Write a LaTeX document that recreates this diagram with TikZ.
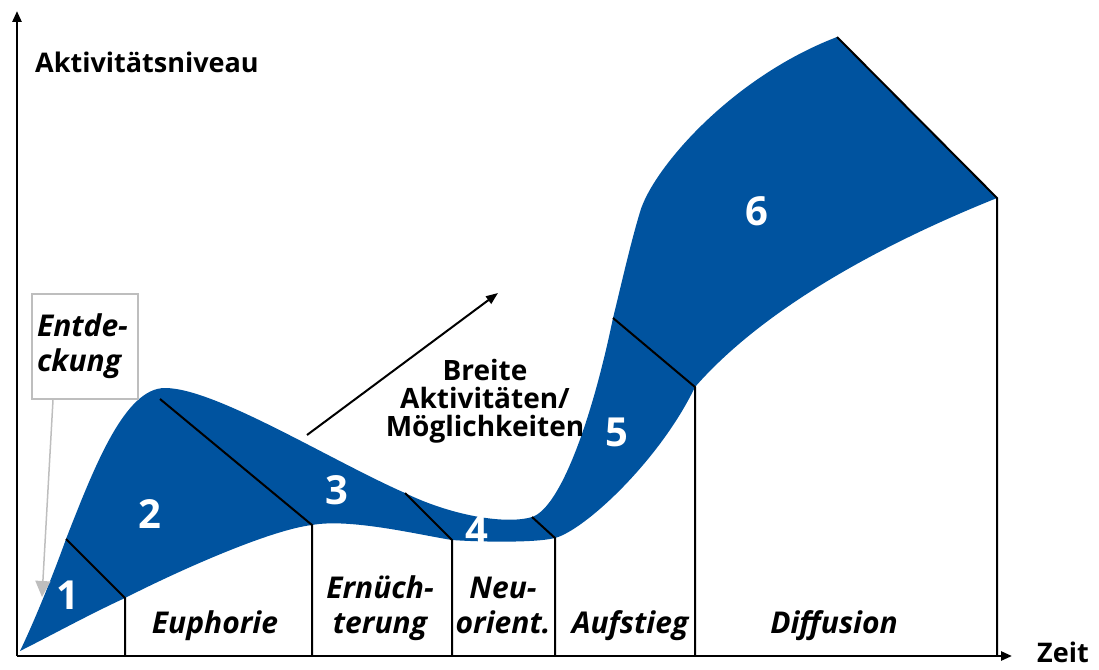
\documentclass[tikz,border=0pt]{standalone}
\usepackage{fontspec}
\setmainfont{Open Sans}
\usepackage{color}
\definecolor{myblue}{RGB}{0,83,159}
\definecolor{mygray}{RGB}{190,190,190}
\usepackage{tikz}
\usetikzlibrary{arrows.meta,calc}

\begin{document}
\begin{tikzpicture}[
  x=1pt, y=-1pt,
  myaxis/.style={line width=2.5pt, -{Triangle[width=9pt,length=11pt]}},
  mydivider/.style={line width=2pt},
  mynum/.style={text=white, inner sep=0pt, font=\fontsize{40}{40}\selectfont\bfseries},
  myphase/.style={
    font=\fontsize{30}{35}\selectfont\bfseries\itshape,
    align=center,
    anchor=base,
    inner sep=0pt
    },
  mytitle/.style={
    font=\fontsize{27}{28}\selectfont\bfseries,
    inner sep=0pt
    }
]
\useasboundingbox (0,0) rectangle (1099,669);

% axes
\coordinate (origin) at (17,656);
\coordinate (ytip) at (17,11);
\coordinate (xtip) at (1012,656);

% phase borders, top and bottom end
\coordinate (u1) at (66,539);
\coordinate (u2) at (160,399);
\coordinate (u3) at (405,493);
\coordinate (u4) at (532,517);
\coordinate (u5) at (613,318);
\coordinate (u6) at (837,37);
\coordinate (l1) at (125,598);
\coordinate (l2) at (312,525);
\coordinate (l3) at (452,540);
\coordinate (l4) at (555,538);
\coordinate (l5) at (695,387);
\coordinate (l6) at (997,198);

% the band
\fill[myblue] (20,651) .. controls (35,620) and (55,570) .. (u1)
  .. controls (95,465) and (125,388) .. (165,388)
  .. controls (215,388) and (330,460) .. (u3)
  .. controls (450,515) and (505,525) .. (u4)
  .. controls (560,508) and (592,420) .. (u5)
  .. controls (620,290) and (630,245) .. (640,212)
  .. controls (652,170) and (730,78) .. (u6)
  -- (l6)
  .. controls (930,225) and (780,290) .. (l5)
  .. controls (660,460) and (585,530) .. (l4)
  .. controls (535,543) and (480,542) .. (l3)
  .. controls (420,535) and (350,518) .. (l2)
  .. controls (270,530) and (180,570) .. (l1)
  .. controls (90,614) and (50,636) .. cycle;

\foreach \i in {1,...,6}
  \draw[mydivider] (u\i) -- (l\i) -- (l\i |- origin);

\draw[myaxis] (origin) -- (ytip);
\draw[myaxis] (origin) -- (xtip);

\node[mytitle, anchor=base west] (ylabel) at (35,72) {Aktivitätsniveau};
\node[mytitle, anchor=base west] (xlabel) at (1037,662) {Zeit};

\foreach \n/\x/\y in {1/68/595, 2/150/514, 3/337/490, 4/477/530, 5/617/432, 6/757/211}
  \node[mynum] (num\n) at (\x,\y) {\n};

\node[myphase] (euphorie) at (215,633) {Euphorie};
\node[myphase] (ernuechterung) at (380,633) {Ernüch-\\terung};
\node[myphase] (neuorient) at (503,633) {Neu-\\orient.};
\node[myphase] (aufstieg) at (630,633) {Aufstieg};
\node[myphase] (diffusion) at (834,633) {Diffusion};

% Entdeckung
\node[draw=mygray, line width=2pt, minimum width=106pt, minimum height=105pt,
  text width=96pt, inner xsep=5pt, align=left,
  font=\fontsize{30}{35}\selectfont\bfseries\itshape] (entd) at (85,346.5) {Entde-\\ckung};
\coordinate (entdtip) at (42,597);
\draw[mygray, line width=1.5pt, -{Triangle[width=15pt,length=16pt]}]
  ([xshift=22pt]entd.south west) -- (entdtip);

% breite
\coordinate (brstart) at (307,435);
\coordinate (brend) at (498,293);
\draw[line width=2pt, -{Triangle[width=9pt,length=12pt]}] (brstart) -- (brend);
\node[mytitle, font=\fontsize{28}{28}\selectfont\bfseries, align=center, anchor=base] (breite) at (485,436)
  {Breite\\Aktivitäten/\\Möglichkeiten};

\end{tikzpicture}
\end{document}
